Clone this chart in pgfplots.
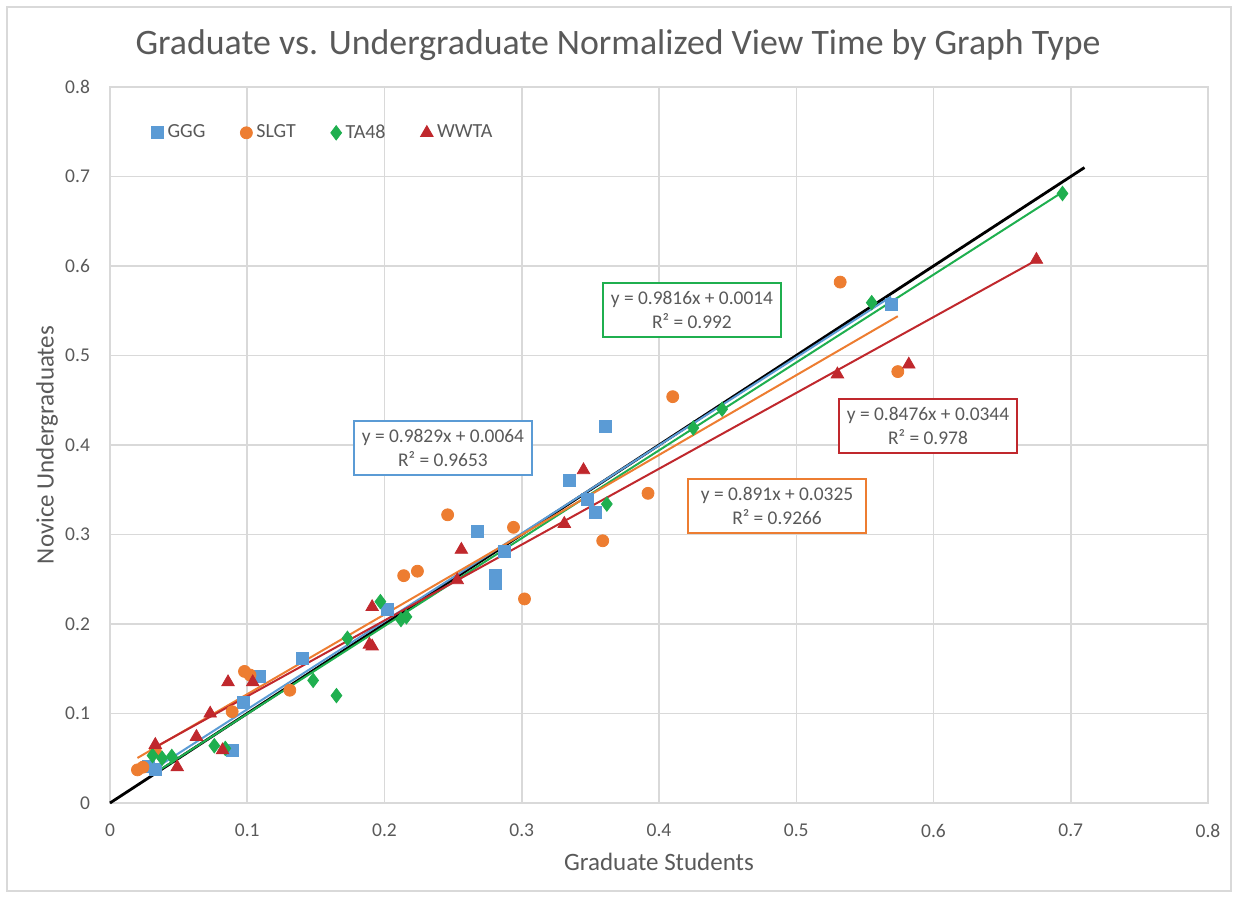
\documentclass[border=0pt]{standalone}
\usepackage{pgfplots}
\pgfplotsset{compat=1.18}
\usepackage{fontspec}
\setmainfont{Carlito}
\definecolor{txtgray}{HTML}{595959}
\definecolor{gridgray}{HTML}{D9D9D9}
\definecolor{cGGG}{HTML}{5B9BD5}
\definecolor{cSLGT}{HTML}{ED7D31}
\definecolor{cTA}{HTML}{1FAF4F}
\definecolor{cWWTA}{HTML}{C0282D}

\begin{document}
\begin{tikzpicture}
\begin{axis}[
  scale only axis,
  width=549pt, height=358pt,
  xmin=0, xmax=0.8, ymin=0, ymax=0.8,
  xtick={0,0.1,...,0.8}, ytick={0,0.1,...,0.8},
  grid=major,
  major grid style={gridgray, line width=0.75pt},
  axis line style={gridgray, line width=0.75pt},
  major tick length=0pt,
  /pgf/number format/.cd, fixed, precision=1, assume math mode=true,
  /pgfplots/.cd,
  tick label style={font=\fontsize{9.75}{11}\selectfont, text=txtgray},
  yticklabel style={xshift=-6.5pt},
  xticklabel style={yshift=-7pt},
  title={Graduate vs. Undergraduate Normalized View Time by Graph Type},
  title style={at={(axis description cs:0.4627,1.0587)}, anchor=center, yshift=-6pt,
    font=\fontsize{17.9}{21}\selectfont, text=txtgray},
  xlabel={Graduate Students},
  ylabel={Novice Undergraduates},
  x label style={at={(axis description cs:0.5,-0.0824)}, anchor=center,
    font=\fontsize{12.5}{14}\selectfont, text=txtgray},
  y label style={at={(axis description cs:-0.0574,0.5)}, anchor=center,
    font=\fontsize{12.5}{14}\selectfont, text=txtgray},
  legend columns=4,
  legend style={at={(rel axis cs:0.032,0.936)}, anchor=west, draw=none, fill=none,
    font=\fontsize{10}{11}\selectfont, text=txtgray,
    /tikz/every even column/.append style={column sep=15.5pt}},
  legend cell align=left,
  clip=false,
]
% identity line
\addplot[black, line width=1.4pt, forget plot] coordinates {(0,0) (0.71,0.71)};

% linear trendlines (end points from the fitted equations)
\addplot[cTA, line width=1pt, forget plot] coordinates {(0.031,0.0318) (0.694,0.6826)};
\addplot[cGGG, line width=1pt, forget plot] coordinates {(0.028,0.0339) (0.569,0.5657)};
\addplot[cSLGT, line width=1pt, forget plot] coordinates {(0.020,0.0503) (0.574,0.5439)};
\addplot[cWWTA, line width=1pt, forget plot] coordinates {(0.033,0.0624) (0.675,0.6065)};

% GGG
\addplot[only marks, mark=square*, mark size=3pt, color=cGGG, mark options={fill=cGGG, draw=cGGG}] coordinates {
 (0.028,0.041) (0.033,0.038) (0.089,0.059) (0.097,0.112) (0.109,0.141)
 (0.140,0.161) (0.202,0.216) (0.268,0.304) (0.281,0.254) (0.281,0.245)
 (0.287,0.281) (0.335,0.360) (0.348,0.339) (0.354,0.325) (0.361,0.421)
 (0.569,0.557)};
\addlegendentry{GGG}
% SLGT
\addplot[only marks, mark=*, mark size=3pt, color=cSLGT, mark options={fill=cSLGT, draw=cSLGT}] coordinates {
 (0.020,0.037) (0.024,0.040) (0.033,0.058) (0.089,0.102) (0.098,0.147)
 (0.102,0.143) (0.131,0.126) (0.214,0.254) (0.224,0.259) (0.246,0.322)
 (0.294,0.308) (0.302,0.228) (0.359,0.293) (0.392,0.346) (0.410,0.454)
 (0.532,0.582) (0.574,0.482)};
\addlegendentry{SLGT}
% TA48
\addplot[only marks, mark=diamond*, mark size=3.6pt, color=cTA, mark options={fill=cTA, draw=cTA}] coordinates {
 (0.031,0.053) (0.038,0.050) (0.045,0.052) (0.076,0.064) (0.084,0.061)
 (0.148,0.137) (0.165,0.120) (0.173,0.184) (0.197,0.225) (0.212,0.205)
 (0.216,0.208) (0.362,0.334) (0.425,0.419) (0.446,0.440) (0.555,0.559)
 (0.694,0.681)};
\addlegendentry{TA48}
% WWTA
\addplot[only marks, mark=triangle*, mark size=3.6pt, color=cWWTA, mark options={fill=cWWTA, draw=cWWTA}] coordinates {
 (0.033,0.065) (0.049,0.040) (0.063,0.074) (0.073,0.100) (0.082,0.059)
 (0.086,0.135) (0.104,0.135) (0.189,0.177) (0.191,0.175) (0.191,0.219)
 (0.253,0.249) (0.256,0.283) (0.331,0.312) (0.345,0.372) (0.530,0.479)
 (0.582,0.490) (0.675,0.607)};
\addlegendentry{WWTA}

% trendline equation boxes
\tikzset{eqbox/.style={draw=#1, line width=0.7pt, fill=white, align=center,
  minimum width=89pt, minimum height=27pt, inner sep=2pt, text=txtgray,
  font=\fontsize{9.7}{12}\selectfont}}
\node[eqbox=cGGG] at (axis cs:0.2426,0.3966) {y = 0.9829x + 0.0064\\R² = 0.9653};
\node[eqbox=cTA] at (axis cs:0.424,0.551) {y = 0.9816x + 0.0014\\R² = 0.992};
\node[eqbox=cSLGT] at (axis cs:0.486,0.332) {y = 0.891x + 0.0325\\R² = 0.9266};
\node[eqbox=cWWTA] at (axis cs:0.596,0.421) {y = 0.8476x + 0.0344\\R² = 0.978};
\end{axis}
% chart area frame
\path (-55pt,-47.5pt) rectangle (564pt,401.5pt);
\draw[gridgray, line width=0.6pt] (-51.5pt,-44pt) rectangle (560.5pt,398pt);
\end{tikzpicture}
\end{document}
